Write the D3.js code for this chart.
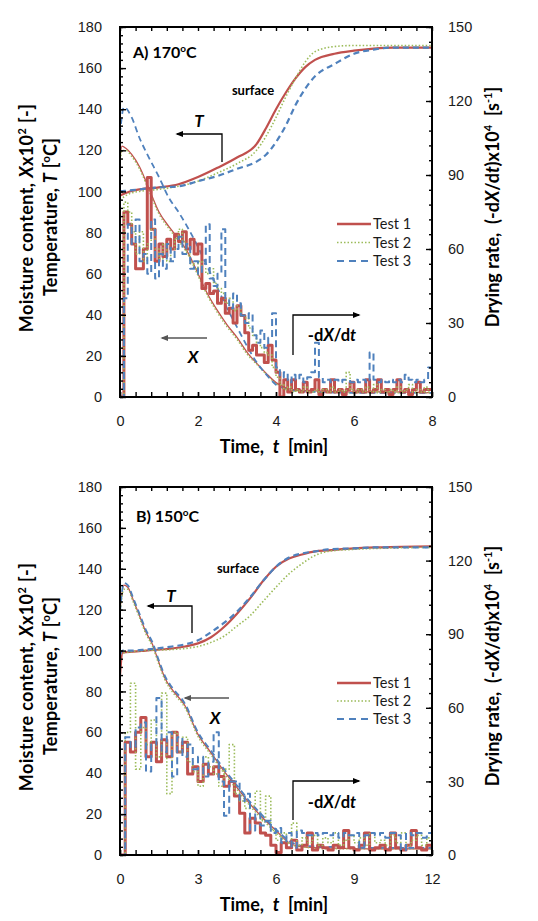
<!DOCTYPE html>
<html>
<head>
<meta charset="utf-8">
<script src="https://cdn.jsdelivr.net/npm/d3@7"></script>
<style>
  body { margin: 0; background: #fff; }
  svg { display: block; font-family: Lato, "Liberation Sans", sans-serif; }
</style>
</head>
<body>
<svg id="chart" width="538" height="921"></svg>
<script>
// test names and colours (Excel defaults)
var testNames = ["Test 1", "Test 2", "Test 3"];
var testColors = ["#c0504d", "#9bbb59", "#4f81bd"];

// ---- Panel A, 170 C ----
var tempTimeA = [0, 0.25, 0.5, 1, 1.5, 2, 2.5, 3, 3.5, 3.75, 4, 4.25, 4.5, 4.75, 5, 5.5, 6, 6.5, 7, 8];
var tempA1 = [98, 100, 101, 102, 103.5, 107, 111.5, 116.5, 123, 131, 140, 148, 155, 160.5, 164, 167, 168.5, 169.5, 170, 170];
var tempA2 = [96, 99, 100, 101, 102.5, 105, 109, 113.5, 120, 127, 136, 146, 155, 163, 168, 170.5, 171, 171, 171, 171];
var tempA3 = [100, 100.5, 101, 102, 102.5, 105, 107.5, 111, 114.5, 118, 124, 132, 142, 150, 156, 162, 167, 169, 170, 170];

var moistTimeA12 = [0, 0.05, 0.15, 0.3, 0.5, 0.75, 1, 1.25, 1.5, 1.75, 2, 2.25, 2.5, 2.75, 3, 3.25, 3.5, 3.75, 4, 4.25, 4.5, 5, 6, 7, 8];
var moistA1 = [116, 122, 121, 118, 112, 101, 90, 83, 77, 70, 60, 50, 42, 35, 29, 22, 16.5, 11.5, 7, 4.5, 3.5, 3, 2.5, 2.5, 2];
var moistA2 = [112, 120, 120, 117, 111, 100, 89, 82, 76, 69, 59, 49, 41, 34, 28, 21, 16, 11, 6.5, 4, 3, 2.5, 2, 2, 2];
var moistTimeA3 = [0, 0.1, 0.3, 0.5, 0.7, 1, 1.25, 1.5, 1.75, 2, 2.25, 2.5, 2.75, 3, 3.25, 3.5, 3.75, 4, 4.25, 4.5, 5, 6, 7, 8];
var moistA3 = [128, 141, 136, 126, 118, 107, 97, 90, 82, 73, 63, 53, 43, 34, 25, 17, 11, 6, 4, 3, 2.5, 2, 2, 2];

// drying rate, sampled every 0.1 min from 0 to 8
var rateStepA = 0.1;
var rateA1 = [0, 75, 70, 62, 52, 52, 60, 89, 68, 55, 62, 57, 64, 60, 66, 63, 67, 60, 64, 58,
  62, 44, 46, 42, 43, 38, 40, 34, 36, 30, 37, 33, 26, 19, 21, 17, 17, 14, 21, 15,
  10, 0, 7, 2, 7, 3, 2, 6, 2, 3, 7, 1, 3, 2, 7, 2, 3, 1, 3, 6,
  2, 3, 2, 7, 2, 3, 7, 2, 3, 1, 3, 7, 2, 3, 1, 3, 6, 2, 3, 3, 3];
var rateA2 = [0, 79, 75, 67, 58, 67, 55, 62, 68, 60, 56, 62, 55, 60, 64, 68, 63, 58, 54, 52,
  55, 52, 50, 52, 46, 44, 42, 38, 40, 35, 37, 33, 32, 28, 25, 22, 20, 18, 17, 12,
  8, 5, 3, 4, 2, 3, 2, 4, 2, 2, 3, 2, 3, 2, 4, 2, 3, 2, 10, 3,
  2, 3, 2, 4, 2, 5, 2, 3, 2, 3, 2, 4, 2, 3, 5, 2, 3, 2, 4, 2, 3];
var rateA3 = [0, 40, 70, 62, 72, 55, 58, 50, 72, 48, 58, 52, 62, 55, 60, 65, 58, 62, 52, 55,
  50, 54, 70, 48, 45, 50, 68, 40, 36, 42, 38, 33, 30, 34, 25, 22, 27, 20, 24, 34,
  12, 8, 10, 6, 9, 7, 9, 6, 8, 10, 22, 8, 6, 7, 6, 7, 6, 7, 7, 6,
  7, 6, 7, 6, 18, 7, 6, 7, 6, 7, 6, 7, 6, 9, 7, 6, 7, 6, 7, 12, 10];

// ---- Panel B, 150 C ----
var tempTimeB = [0, 0.1, 0.5, 1, 2, 2.5, 3, 3.5, 4, 4.5, 5, 5.5, 6, 6.5, 7, 7.5, 8, 9, 10, 12];
var tempB1 = [88, 99, 99.5, 100, 101, 102, 103.5, 106.5, 111.5, 118, 125.5, 134, 141, 145, 147, 148.5, 149, 150, 150.5, 151];
var tempB2 = [99, 99, 99.5, 100, 100.5, 101, 102, 104, 107, 112, 117, 124, 131, 137.5, 142.5, 146.5, 148.5, 149.5, 150, 150.5];
var tempB3 = [98, 100, 100, 100.5, 102, 103, 105, 109, 113.5, 119, 126, 134, 141, 145.5, 147.5, 148.5, 149.5, 150, 150.5, 150.5];

var moistTimeB = [0, 0.15, 0.3, 0.5, 0.75, 1, 1.25, 1.5, 1.75, 2, 2.5, 3, 3.5, 4, 4.5, 5, 5.5, 6, 6.5, 7, 8, 10, 12];
var moistB1 = [120, 132, 131, 125, 117, 109, 103, 94, 86, 81, 73, 59, 50, 41, 33, 25, 18, 12, 6, 4, 3.5, 3, 3];
var moistB2 = [118, 130, 130, 124, 116, 108, 102, 93, 85, 80, 72, 58, 49, 40, 32, 24, 17, 11, 5.5, 4, 3, 3, 3];
var moistB3 = [119, 133, 132, 126, 118, 110, 104, 95, 87, 82, 74, 60, 51, 42, 34, 26, 19, 12.5, 7, 4.5, 4, 3.5, 3.5];

// drying rate, sampled every 0.2 min from 0 to 12
var rateStepB = 0.2;
var rateB1 = [0, 46, 42, 50, 56, 40, 46, 38, 47, 40, 50, 42, 46, 33, 36, 30, 37, 33, 36, 32,
  28, 30, 24, 17, 9, 15, 13, 9, 8, 4, 1, 5, 3, 6, 2, 4, 9, 2, 4, 3,
  2, 4, 3, 10, 3, 2, 4, 9, 2, 3, 4, 2, 9, 3, 2, 4, 10, 3, 2, 4, 3];
var rateB2 = [0, 50, 70, 35, 52, 45, 55, 40, 66, 25, 50, 42, 48, 38, 34, 28, 40, 36, 33, 28,
  35, 45, 25, 22, 19, 20, 26, 14, 24, 10, 6, 9, 5, 13, 4, 7, 5, 8, 4, 7,
  5, 9, 4, 6, 8, 5, 7, 4, 9, 5, 6, 4, 8, 5, 9, 4, 6, 8, 4, 7, 5];
var rateB3 = [0, 48, 44, 52, 54, 34, 45, 64, 42, 50, 32, 48, 40, 45, 35, 40, 32, 38, 50, 30,
  16, 30, 30, 22, 25, 10, 17, 12, 14, 9, 11, 5, 9, 3, 10, 9, 8, 9, 8, 9,
  8, 9, 7, 9, 8, 9, 3, 8, 9, 8, 9, 7, 9, 8, 2, 9, 8, 9, 7, 9, 9];

// axis ticks
var leftTicks = [0, 20, 40, 60, 80, 100, 120, 140, 160, 180];
var rightTicks = [0, 30, 60, 90, 120, 150];
var timeTicksA = [0, 2, 4, 6, 8];
var timeTicksB = [0, 3, 6, 9, 12];

function zip(ts, vs) { return vs.map(function(v, i) { return [ts[i], v]; }); }
function sampled(step, vs) { return vs.map(function(v, i) { return [Math.round(i * step * 100) / 100, v]; }); }

var panels = [
  { top: 27, bottom: 397, xMax: 8, xTicks: timeTicksA, minorX: 0.4, label: "A) 170",
    temp: [zip(tempTimeA, tempA1), zip(tempTimeA, tempA2), zip(tempTimeA, tempA3)],
    moist: [zip(moistTimeA12, moistA1), zip(moistTimeA12, moistA2), zip(moistTimeA3, moistA3)],
    rate: [sampled(rateStepA, rateA1), sampled(rateStepA, rateA2), sampled(rateStepA, rateA3)],
    ann: { title: [13, 31], surface: [133, 68], T: [79, 100], tArrow: [102, 107, 57, 135],
           legend: [217, 197, 18.5], xArrow: [87, 311, 42], xText: [73, 336],
           rArrow: [173, 328, 288, 239], rText: [212, 314] } },
  { top: 487, bottom: 855, xMax: 12, xTicks: timeTicksB, minorX: 0.6, label: "B) 150",
    temp: [zip(tempTimeB, tempB1), zip(tempTimeB, tempB2), zip(tempTimeB, tempB3)],
    moist: [zip(moistTimeB, moistB1), zip(moistTimeB, moistB2), zip(moistTimeB, moistB3)],
    rate: [sampled(rateStepB, rateB1), sampled(rateStepB, rateB2), sampled(rateStepB, rateB3)],
    ann: { title: [16, 35], surface: [118, 86], T: [51, 115], tArrow: [72, 119, 28, 146],
           legend: [217, 196, 18], xArrow: [109, 211, 65], xText: [95, 237],
           rArrow: [173, 333, 294, 239], rText: [212, 321] } }
];

var svg = d3.select("#chart");
var left = 120, right = 432;
var sp = "\u00a0";

// arrow markers
var defs = svg.append("defs");
[["arrBlack", "#000"], ["arrGray", "#555"]].forEach(function(m) {
  defs.append("marker").attr("id", m[0]).attr("viewBox", "0 0 10 10")
    .attr("refX", 8).attr("refY", 5).attr("markerWidth", 8).attr("markerHeight", 8)
    .attr("markerUnits", "userSpaceOnUse").attr("orient", "auto")
    .append("path").attr("d", "M0,1 L10,5 L0,9 Z").attr("fill", m[1]);
});

var lineStyles = {
  temp:  [{ w: 2.2, dash: null }, { w: 1.6, dash: "1.5,2" }, { w: 2.2, dash: "6,4" }],
  moist: [{ w: 1.3, dash: null }, { w: 1.4, dash: "1.5,2" }, { w: 1.8, dash: "6,4" }],
  rate:  [{ w: 3, dash: null }, { w: 1.6, dash: "1.5,2" }, { w: 2, dash: "7,4" }]
};

panels.forEach(function(p, pi) {
  var x = d3.scaleLinear().domain([0, p.xMax]).range([left, right]);
  var yL = d3.scaleLinear().domain([0, 180]).range([p.bottom, p.top]);
  var yR = d3.scaleLinear().domain([0, 150]).range([p.bottom, p.top]);
  var g = svg.append("g");

  var clipId = "clip" + pi;
  defs.append("clipPath").attr("id", clipId).append("rect")
    .attr("x", left).attr("y", p.top).attr("width", right - left).attr("height", p.bottom - p.top);
  var plot = g.append("g").attr("clip-path", "url(#" + clipId + ")");

  var smooth = d3.line().x(function(d) { return x(d[0]); }).y(function(d) { return yL(d[1]); }).curve(d3.curveMonotoneX);
  var step = d3.line().x(function(d) { return x(d[0]); }).y(function(d) { return yR(d[1]); }).curve(d3.curveStepAfter);

  function draw(series, gen, styles) {
    series.forEach(function(s, i) {
      plot.append("path").datum(s).attr("d", gen)
        .attr("fill", "none").attr("stroke", testColors[i])
        .attr("stroke-width", styles[i].w)
        .attr("stroke-dasharray", styles[i].dash)
        .attr("stroke-linejoin", "round");
    });
  }
  draw(p.temp, smooth, lineStyles.temp);
  draw(p.moist, smooth, lineStyles.moist);
  draw(p.rate, step, lineStyles.rate);

  // axes
  function style(sel) {
    sel.select(".domain").remove();
    sel.selectAll("line").attr("stroke", "#000").attr("stroke-width", 1.4);
    sel.selectAll("text").attr("font-size", 14.5).attr("fill", "#1a1a1a");
  }
  g.append("g").attr("transform", "translate(" + left + ",0)")
    .call(d3.axisLeft(yL).tickValues(leftTicks).tickSize(-6).tickPadding(18)).call(style);
  g.append("g").attr("transform", "translate(" + left + ",0)")
    .call(d3.axisLeft(yL).tickValues(d3.range(0, 181, 4)).tickSize(-3).tickFormat("")).call(style);
  g.append("g").attr("transform", "translate(" + right + ",0)")
    .call(d3.axisRight(yR).tickValues(rightTicks).tickSize(-6).tickPadding(16)).call(style);
  g.append("g").attr("transform", "translate(" + right + ",0)")
    .call(d3.axisRight(yR).tickValues(d3.range(0, 151, 6)).tickSize(-3).tickFormat("")).call(style);
  var minor = d3.range(0, p.xMax + 0.001, p.minorX);
  g.append("g").attr("transform", "translate(0," + p.bottom + ")")
    .call(d3.axisBottom(x).tickValues(p.xTicks).tickSize(-5).tickPadding(19)).call(style);
  g.append("g").attr("transform", "translate(0," + p.bottom + ")")
    .call(d3.axisBottom(x).tickValues(minor).tickSize(-5).tickFormat("")).call(style);
  g.append("g").attr("transform", "translate(0," + p.top + ")")
    .call(d3.axisTop(x).tickValues(minor).tickSize(-4).tickFormat("")).call(style);

  g.append("rect").attr("x", left).attr("y", p.top).attr("width", right - left).attr("height", p.bottom - p.top)
    .attr("fill", "none").attr("stroke", "#000").attr("stroke-width", 2);

  // annotations (panel local pixels)
  var a = p.ann, ox = left, oy = p.top;
  var t = g.append("text").attr("x", ox + a.title[0]).attr("y", oy + a.title[1])
    .attr("font-size", 16).attr("font-weight", "bold");
  t.append("tspan").text(p.label);
  t.append("tspan").attr("dy", -6).attr("font-size", 10).text("o");
  t.append("tspan").attr("dy", 6).text("C");

  g.append("text").attr("x", ox + a.surface[0]).attr("y", oy + a.surface[1])
    .attr("text-anchor", "middle").attr("font-size", 13).attr("font-weight", "bold").text("surface");
  g.append("text").attr("x", ox + a.T[0]).attr("y", oy + a.T[1])
    .attr("text-anchor", "middle").attr("font-size", 17).attr("font-weight", "bold")
    .attr("font-style", "italic").text("T");

  var ta = a.tArrow;
  g.append("path").attr("d", "M" + (ox + ta[0]) + "," + (oy + ta[3]) + "V" + (oy + ta[1]) + "H" + (ox + ta[2]))
    .attr("fill", "none").attr("stroke", "#000").attr("stroke-width", 1.3).attr("marker-end", "url(#arrBlack)");

  var xa = a.xArrow;
  g.append("path").attr("d", "M" + (ox + xa[0]) + "," + (oy + xa[1]) + "H" + (ox + xa[2]))
    .attr("fill", "none").attr("stroke", "#555").attr("stroke-width", 1.3).attr("marker-end", "url(#arrGray)");
  g.append("text").attr("x", ox + a.xText[0]).attr("y", oy + a.xText[1])
    .attr("text-anchor", "middle").attr("font-size", 17).attr("font-weight", "bold")
    .attr("font-style", "italic").text("X");

  var ra = a.rArrow;
  g.append("path").attr("d", "M" + (ox + ra[0]) + "," + (oy + ra[1]) + "V" + (oy + ra[2]) + "H" + (ox + ra[3]))
    .attr("fill", "none").attr("stroke", "#000").attr("stroke-width", 1.3).attr("marker-end", "url(#arrBlack)");
  var rt = g.append("text").attr("x", ox + a.rText[0]).attr("y", oy + a.rText[1])
    .attr("text-anchor", "middle").attr("font-size", 16.5).attr("font-weight", "bold");
  rt.append("tspan").text("-d");
  rt.append("tspan").attr("font-style", "italic").text("X");
  rt.append("tspan").text("/d");
  rt.append("tspan").attr("font-style", "italic").text("t");

  // legend
  var lg = a.legend;
  testNames.forEach(function(name, i) {
    var yy = oy + lg[1] + i * lg[2];
    var st = [{ w: 2.5, dash: null }, { w: 1.6, dash: "1.5,2" }, { w: 2, dash: "7,5" }][i];
    g.append("line").attr("x1", ox + lg[0]).attr("x2", ox + lg[0] + 34).attr("y1", yy).attr("y2", yy)
      .attr("stroke", testColors[i]).attr("stroke-width", st.w).attr("stroke-dasharray", st.dash);
    g.append("text").attr("x", ox + lg[0] + 36).attr("y", yy + 5).attr("font-size", 14.5)
      .attr("fill", "#1a1a1a").text(name);
  });

  // axis titles
  var cy = (p.top + p.bottom) / 2;
  var m = g.append("text").attr("transform", "translate(33," + (cy + 6) + ") rotate(-90)")
    .attr("text-anchor", "middle").attr("font-size", 18).attr("font-weight", "bold")
    .attr("letter-spacing", 0.4);
  m.append("tspan").text("Moisture content, ");
  m.append("tspan").attr("font-style", "italic").text("X");
  m.append("tspan").text("x10");
  m.append("tspan").attr("dy", -7).attr("font-size", 11).text("2");
  m.append("tspan").attr("dy", 7).text(" [-]");

  var tt = g.append("text").attr("transform", "translate(57," + (cy + 5) + ") rotate(-90)")
    .attr("text-anchor", "middle").attr("font-size", 18).attr("font-weight", "bold")
    .attr("letter-spacing", 0.2);
  tt.append("tspan").text("Temperature, ");
  tt.append("tspan").attr("font-style", "italic").text("T");
  tt.append("tspan").text(" [");
  tt.append("tspan").attr("dy", -7).attr("font-size", 11).text("o");
  tt.append("tspan").attr("dy", 7).text("C]");

  var rr = g.append("text").attr("transform", "translate(499," + (cy - 5) + ") rotate(-90)")
    .attr("text-anchor", "middle").attr("font-size", 18).attr("font-weight", "bold");
  rr.append("tspan").text("Drying rate," + sp + sp + "(-d");
  rr.append("tspan").attr("font-style", "italic").text("X");
  rr.append("tspan").text("/d");
  rr.append("tspan").attr("font-style", "italic").text("t");
  rr.append("tspan").text(")x10");
  rr.append("tspan").attr("dy", -7).attr("font-size", 11).text("4");
  rr.append("tspan").attr("dy", 7).text(sp + sp + "[s");
  rr.append("tspan").attr("dy", -7).attr("font-size", 11).text("-1");
  rr.append("tspan").attr("dy", 7).text("]");

  var xt = g.append("text").attr("x", (left + right) / 2 - 2).attr("y", p.bottom + 56)
    .attr("text-anchor", "middle").attr("font-size", 18).attr("font-weight", "bold");
  xt.append("tspan").text("Time," + sp + sp);
  xt.append("tspan").attr("font-style", "italic").text("t");
  xt.append("tspan").text(sp + sp + "[min]");
});
</script>
</body>
</html>
